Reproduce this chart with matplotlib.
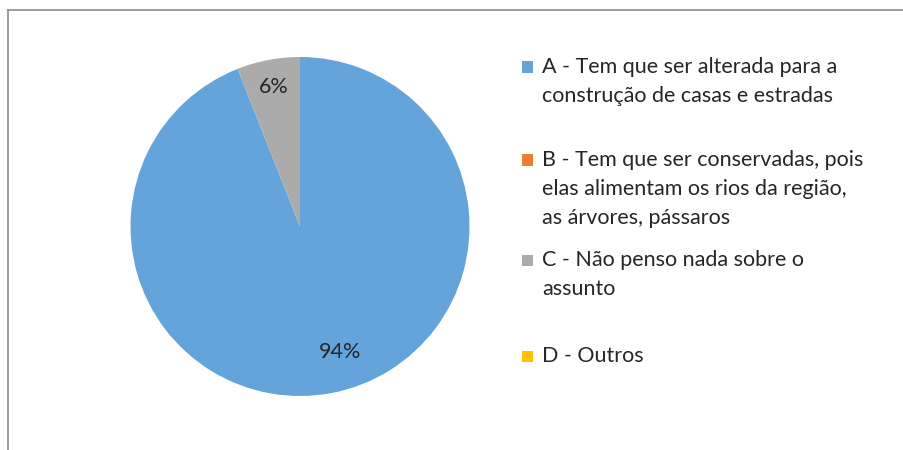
import numpy as np
import matplotlib
matplotlib.use('Agg')
import matplotlib.pyplot as plt
from matplotlib.lines import Line2D
from matplotlib.patches import Rectangle

# answers to the survey question
categories = ['A - Tem que ser alterada para a\nconstrução de casas e estradas',
              'B - Tem que ser conservadas, pois\nelas alimentam os rios da região,\nas árvores, pássaros',
              'C - Não penso nada sobre o\nassunto',
              'D - Outros']
values = [94, 0, 6, 0]
colors = ['#64A4DA', '#ED7D31', '#ABABAB', '#FFC000']

plt.rcParams['font.family'] = ['Lato', 'DejaVu Sans']

W, H = 904, 450
fig = plt.figure(figsize=(W / 100, H / 100), dpi=100)

# chart frame (only top and left edges visible in the crop)
fig.add_artist(Line2D([7.5 / W, 1], [1 - 10 / H, 1 - 10 / H], color='#8c8c8c', lw=1.2))
fig.add_artist(Line2D([7.5 / W, 7.5 / W], [0, 1 - 10 / H], color='#8c8c8c', lw=1.2))

# pie
cx, cy, r = 300, 226.5, 169.5
ax = fig.add_axes([(cx - r) / W, (H - cy - r) / H, 2 * r / W, 2 * r / H])
ax.pie(values, colors=colors, startangle=90, counterclock=False,
       wedgeprops={'linewidth': 0})
ax.set_xlim(-1, 1)
ax.set_ylim(-1, 1)
ax.axis('off')

# data labels, placed roughly where Excel puts them
total = sum(values)
start = 90.0
label_r = [0.78, 0, 0.835, 0]
label_shift = [7, 0, 0, 0]
for v, lr, sh in zip(values, label_r, label_shift):
    ang = start - v / total * 360 / 2 + sh
    if v > 0:
        ax.text(lr * np.cos(np.radians(ang)), lr * np.sin(np.radians(ang)),
                '%d%%' % round(v / total * 100),
                ha='center', va='center', fontsize=15.5, color='#262626')
    start -= v / total * 360

# legend drawn by hand
entry_y = [67, 160, 260, 356]
line_h = 29
for lab, col, y in zip(categories, colors, entry_y):
    fig.add_artist(Rectangle((522 / W, 1 - (y + 5.5) / H), 11 / W, 11 / H,
                             facecolor=col, edgecolor='none'))
    for i, line in enumerate(lab.split('\n')):
        fig.text(542 / W, 1 - (y + i * line_h) / H, line, ha='left', va='center',
                 fontsize=15.5, color='#262626')

fig.savefig('out.png', dpi=100, facecolor='white')
